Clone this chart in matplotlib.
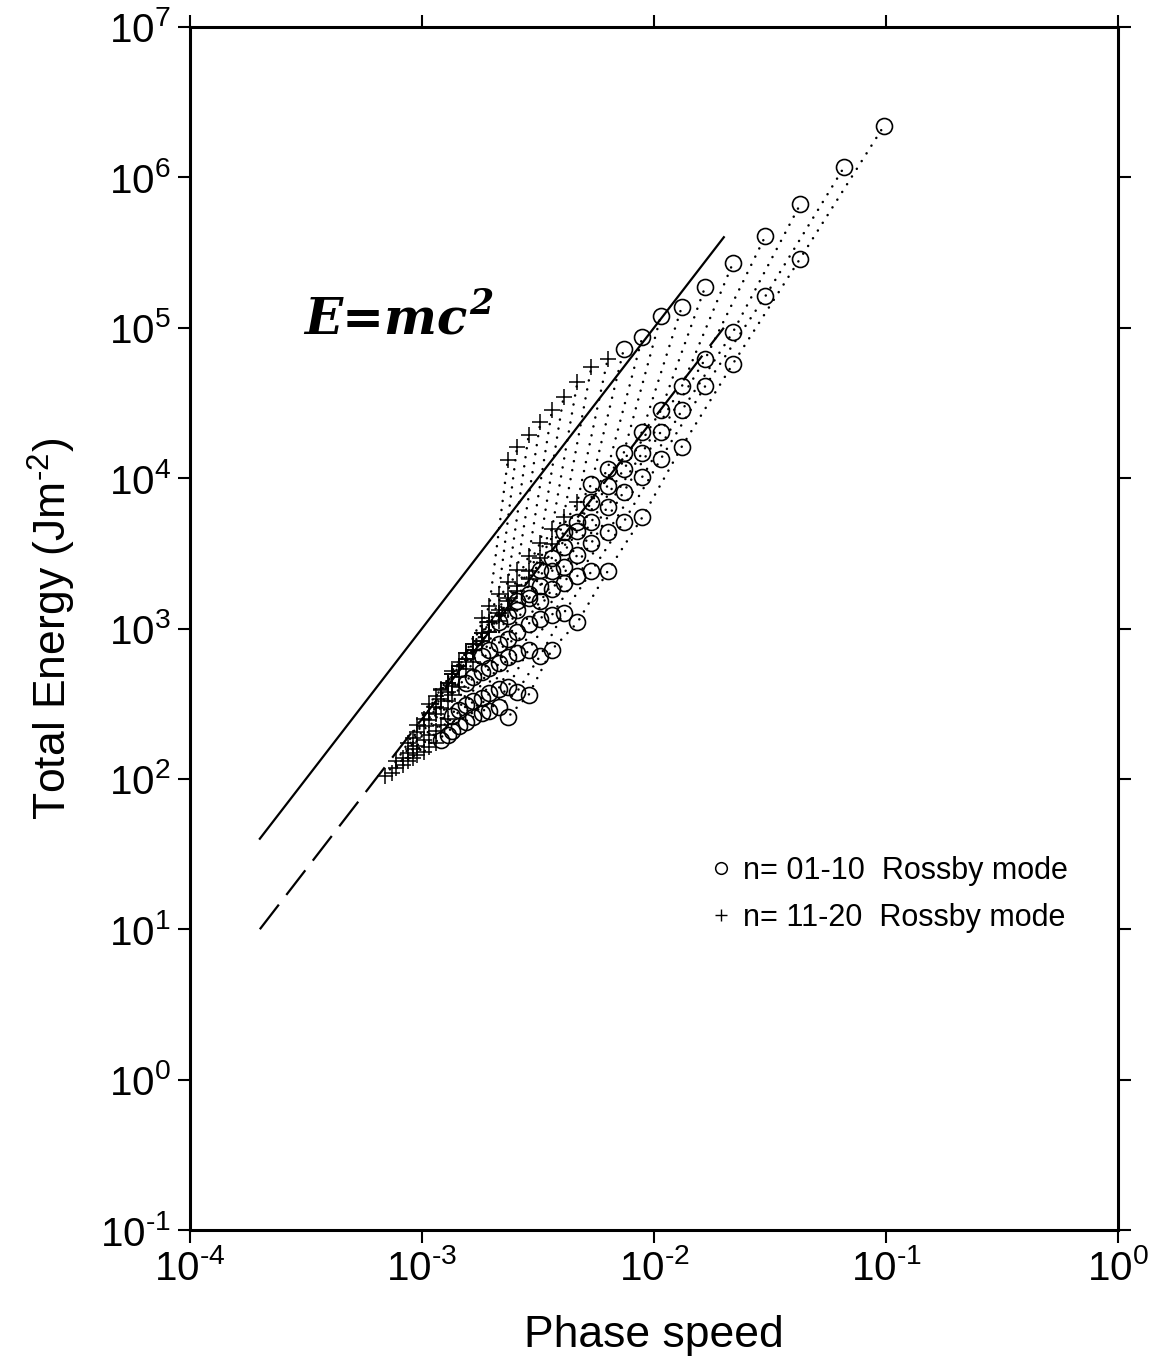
import numpy as np
import matplotlib
matplotlib.use("Agg")
import matplotlib.pyplot as plt
from matplotlib.lines import Line2D
from matplotlib.ticker import FuncFormatter, FixedLocator, NullLocator

plt.rcParams['font.family'] = ['Liberation Sans', 'DejaVu Sans']
plt.rcParams['mathtext.fontset'] = 'custom'
plt.rcParams['mathtext.rm'] = 'Liberation Sans'
plt.rcParams['mathtext.it'] = 'Liberation Sans:italic'
plt.rcParams['mathtext.bf'] = 'Liberation Sans:bold'

# ---------------- data ----------------
# log10 phase speed of each column of points; a point of mode n and
# wave number s (both from 1) sits in column n + 2*s - 2
log_c_column = [-1.01, -1.18, -1.37, -1.52, -1.66, -1.78, -1.88, -1.97, -2.05, -2.13,
                -2.20, -2.27, -2.33, -2.39, -2.44, -2.49, -2.54, -2.59, -2.63, -2.67,
                -2.71, -2.74, -2.78, -2.81, -2.84, -2.87, -2.89, -2.92, -2.94, -2.97,
                -2.99, -3.02, -3.04, -3.06, -3.08, -3.11, -3.13, -3.16]

# log10 total energy (J m^-2) for wave numbers s = 1..10 of each mode n
# (nan: no point shown)
log_E_n01 = [6.34, 5.46, 4.76, 4.21, 3.74, 3.38, 3.04, 2.86, 2.56, 2.41]
log_E_n02 = [6.07, 5.21, 4.61, 4.13, 3.71, 3.38, 3.10, 2.82, 2.58, 2.48]
log_E_n03 = [5.82, 4.97, 4.45, 4.01, 3.64, 3.35, 3.09, 2.86, 2.61, 2.45]
log_E_n04 = [5.61, 4.79, 4.31, 3.91, 3.57, 3.30, 3.06, 2.84, 2.60, 2.44]
log_E_n05 = [5.43, 4.61, 4.17, 3.81, 3.49, 3.26, 3.03, 2.81, 2.57, 2.41]
log_E_n06 = [5.27, 4.45, 4.06, 3.71, 3.41, 3.18, 2.98, 2.77, 2.54, 2.38]
log_E_n07 = [5.14, 4.31, 3.95, 3.65, 3.38, 3.20, 2.93, 2.74, 2.52, 2.35]
log_E_n08 = [5.08, 4.17, 3.84, 3.54, 3.28, 3.12, 2.90, 2.71, 2.49, 2.32]
log_E_n09 = [4.94, 4.06, 3.71, 3.47, 3.23, 3.08, 2.86, 2.68, 2.46, 2.29]
log_E_n10 = [4.86, 3.96, 3.64, 3.39, 3.18, 3.04, 2.82, 2.64, 2.42, 2.26]
log_E_n11 = [4.79, 3.84, 3.56, 3.33, 3.12, 2.98, 2.78, 2.61, 2.40, 2.24]
log_E_n12 = [4.74, 3.74, 3.47, 3.25, 3.05, 2.92, 2.73, 2.56, 2.36, 2.21]
log_E_n13 = [4.64, 3.66, 3.38, 3.18, 2.98, 2.86, 2.68, 2.52, 2.32, 2.18]
log_E_n14 = [4.54, 3.57, 3.28, 3.10, 2.92, 2.80, 2.62, 2.47, 2.29, 2.16]
log_E_n15 = [4.45, 3.48, 3.20, 3.04, 2.86, 2.75, 2.58, 2.43, 2.26, 2.14]
log_E_n16 = [4.37, 3.39, 3.12, 2.97, 2.80, 2.70, 2.53, 2.39, 2.22, 2.12]
log_E_n17 = [4.29, 3.31, 3.04, 2.90, 2.75, 2.64, 2.48, 2.35, 2.20, 2.09]
log_E_n18 = [4.21, 3.23, 2.97, 2.84, 2.70, 2.60, 2.44, 2.31, 2.17, 2.07]
log_E_n19 = [4.12, 3.15, 2.90, 2.78, 2.64, 2.55, 2.40, 2.27, 2.14, 2.04]
log_E_n20 = [np.nan, 3.07, 2.84, 2.72, 2.59, 2.50, 2.36, 2.24, 2.12, 2.02]

modes = [log_E_n01, log_E_n02, log_E_n03, log_E_n04, log_E_n05,
         log_E_n06, log_E_n07, log_E_n08, log_E_n09, log_E_n10,
         log_E_n11, log_E_n12, log_E_n13, log_E_n14, log_E_n15,
         log_E_n16, log_E_n17, log_E_n18, log_E_n19, log_E_n20]

# reference lines E = k c^2
ref_c = [2e-4, 2e-2]
solid_E = [40.0, 4.0e5]
dashed_E = [10.0, 1.0e5]

# axis ticks
x_ticks = [1e-4, 1e-3, 1e-2, 1e-1, 1e0]
y_ticks = [1e-1, 1e0, 1e1, 1e2, 1e3, 1e4, 1e5, 1e6, 1e7]

legend_labels = ['n= 01-10  Rossby mode', 'n= 11-20  Rossby mode']

HY = '\u2010'  # short hyphen used in the reference superscripts

# ---------------- figure ----------------
fig = plt.figure(figsize=(11.6, 13.59), dpi=100)
ax = fig.add_axes([190/1160, 1 - 1230/1359, 928/1160, 1203/1359])
ax.set_xscale('log')
ax.set_yscale('log')
ax.set_xlim(1e-4, 1.0)
ax.set_ylim(1e-1, 1e7)

for n, logE in enumerate(modes, start=1):
    cols = [n + 2 * s - 3 for s in range(1, len(logE) + 1)]
    c = 10.0 ** np.array([log_c_column[k] for k in cols])
    E = 10.0 ** np.array(logE)
    ok = np.isfinite(E)
    c, E = c[ok], E[ok]
    ax.plot(c, E, color='black', lw=1.8, linestyle=(1.8, (0.05, 3.6)),
            dash_capstyle='round', zorder=2)
    if n <= 10:
        ax.plot(c, E, ls='none', marker='o', ms=11.5, mfc='none', mec='black',
                mew=1.2, zorder=3)
    else:
        ax.plot(c, E, ls='none', marker='+', ms=11, mec='black', mew=1.1, zorder=3)

ax.plot(ref_c, solid_E, color='black', lw=1.6, zorder=4)
ax.plot(ref_c, dashed_E, color='black', lw=1.6, linestyle=(0, (14, 5.5)), zorder=4)

# E = mc^2 annotation
t = ax.text(3.1e-4, 10 ** 4.96, 'E=mc', fontsize=36, family='DejaVu Serif',
            style='italic', weight='bold', ha='left', va='baseline')
ax.annotate('2', xy=(1.0, 1.0), xycoords=t, xytext=(1, 6), textcoords='offset points',
            fontsize=25, family='DejaVu Serif', style='italic', weight='bold',
            ha='left', va='top')

# legend
handles = [Line2D([], [], ls='none', marker='o', ms=10.5, mfc='none', mec='black', mew=1.1),
           Line2D([], [], ls='none', marker='+', ms=11, mec='black', mew=1.0)]
ax.legend(handles, legend_labels, loc='center left', bbox_to_anchor=(0.543, 0.279),
          frameon=False, fontsize=22, markerscale=0.8, handlelength=0.8,
          handletextpad=0.3, labelspacing=0.55, borderpad=0)

# axes styling
for sp in ax.spines.values():
    sp.set_linewidth(2.2)
ax.xaxis.set_major_locator(FixedLocator(x_ticks))
ax.yaxis.set_major_locator(FixedLocator(y_ticks))
ax.xaxis.set_minor_locator(NullLocator())
ax.yaxis.set_minor_locator(NullLocator())


def fmt(v, pos):
    k = int(round(np.log10(v)))
    exp = (HY + str(-k)) if k < 0 else str(k)
    return '$\\mathdefault{10^{' + exp + '}}$'


ax.xaxis.set_major_formatter(FuncFormatter(fmt))
ax.yaxis.set_major_formatter(FuncFormatter(fmt))
ax.tick_params(which='major', direction='out', length=9, width=1.5, labelsize=29,
               top=True, right=True, pad=5)
ax.set_xlabel('Phase speed', fontsize=32, labelpad=19)
ax.set_ylabel('Total Energy (Jm$^{' + HY + '2}$)', fontsize=32, labelpad=16)

fig.savefig('out.png', dpi=100)
